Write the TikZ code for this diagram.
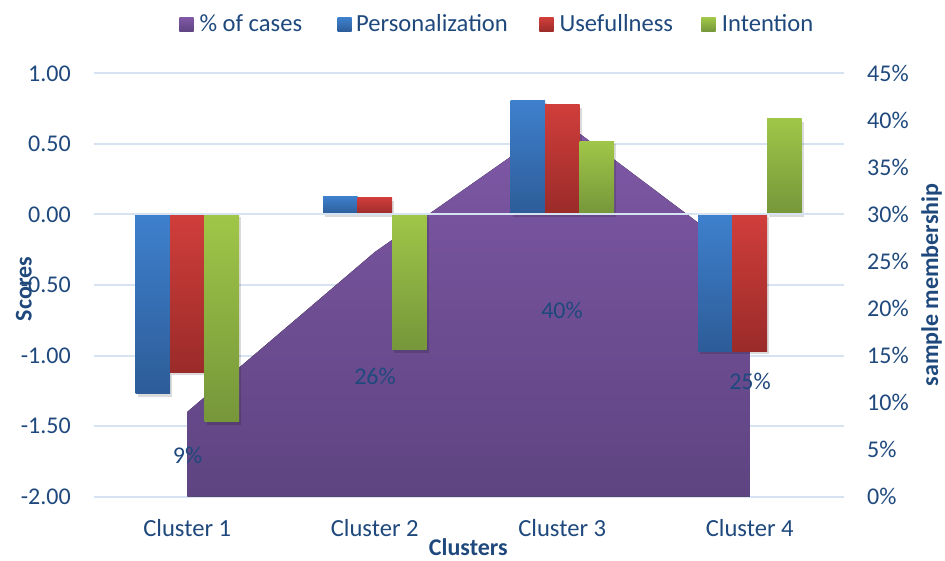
\documentclass[tikz,border=0pt]{standalone}
\usepackage{fontspec}
\setmainfont{Carlito}
\definecolor{txt}{RGB}{31,73,125}
\definecolor{gridc}{RGB}{214,227,243}
\definecolor{purT}{RGB}{127,88,166}
\definecolor{purB}{RGB}{94,68,129}
\definecolor{bluT}{RGB}{62,128,205}
\definecolor{bluB}{RGB}{45,92,152}
\definecolor{redT}{RGB}{208,62,59}
\definecolor{redB}{RGB}{154,43,41}
\definecolor{grnT}{RGB}{160,198,72}
\definecolor{grnB}{RGB}{118,150,58}
\begin{document}
\begin{tikzpicture}[x=1pt,y=-1pt,
  every node/.style={font=\fontsize{24}{28}\selectfont, text=txt, inner sep=0pt},
  bigtext/.style={font=\fontsize{24.6}{28}\selectfont},
  gridline/.style={draw=gridc, line width=2pt},
  areafill/.style={top color=purT, bottom color=purB},
  bluebar/.style={top color=bluT, bottom color=bluB},
  redbar/.style={top color=redT, bottom color=redB},
  greenbar/.style={top color=grnT, bottom color=grnB},
  barshadow/.style={fill=black, opacity=0.14},
  axtitle/.style={font=\fontsize{24}{28}\selectfont\bfseries}
]
\useasboundingbox (0,0) rectangle (945,561);

% gridlines (behind)
\foreach \y in {73.5,144,285,355.5,426,496.5}
  \draw[gridline] (93.5,\y) -- (843.5,\y);

% area series (% of cases)
\fill[areafill] (187.25,496.5) -- (187.25,411.9) -- (374.75,252.1) -- (562.25,120.5)
  -- (749.75,261.5) -- (749.75,496.5) -- cycle;

% bar shadows
\foreach \xl/\v in {135.5/-1.27,170/-1.12,204.5/-1.47,
                    323/0.13,357.5/0.12,392/-0.96,
                    510.5/0.81,545/0.78,579.5/0.52,
                    698/-0.97,732.5/-0.97,767/0.68}
  \fill[barshadow] ({\xl+2},217.5) rectangle ({\xl+36.5},{217.5-141*\v});

% bars
\foreach \xl/\v/\s in {135.5/-1.27/bluebar,170/-1.12/redbar,204.5/-1.47/greenbar,
                       323/0.13/bluebar,357.5/0.12/redbar,392/-0.96/greenbar,
                       510.5/0.81/bluebar,545/0.78/redbar,579.5/0.52/greenbar,
                       698/-0.97/bluebar,732.5/-0.97/redbar,767/0.68/greenbar}
  \path[\s] (\xl,214.5) rectangle ({\xl+34.5},{214.5-141*\v});

% zero axis line on top
\draw[gridline] (93.5,214.5) -- (843.5,214.5);

% left axis labels
\foreach \y/\t [count=\i] in {73.5/1.00,144/0.50,214.5/0.00,285/-0.50,355.5/-1.00,426/-1.50,496.5/-2.00}
  \node[anchor=east] (yl\i) at (71,\y) {\t};

% right axis labels
\foreach \p [count=\i] in {0,5,10,15,20,25,30,35,40,45}
  \node[anchor=west] (yr\i) at (867,{496.5-9.4*\p}) {\p\%};

% category labels
\foreach \x/\t [count=\i] in {187.25/Cluster 1,374.75/Cluster 2,562.25/Cluster 3,749.75/Cluster 4}
  \node[bigtext, anchor=base] (cat\i) at (\x,536.7) {\t};

% data labels
\node (d1) at (187.5,455.5) {9\%};
\node (d2) at (375,376) {26\%};
\node (d3) at (562,310.5) {40\%};
\node (d4) at (750,381.5) {25\%};

% axis titles
\node[axtitle, anchor=base] (xt) at (468.3,555) {Clusters};
\node[axtitle, anchor=base, rotate=90] (ylt) at (31.5,289) {Scores};
\node[axtitle, anchor=base, rotate=90] (yrt) at (938,285) {sample membership};

% legend
\path[areafill] (179.3,17.7) rectangle (193.5,31.7);
\node[bigtext, anchor=base west] (lg1) at (199.3,31.7) {\% of cases};
\path[bluebar] (337.5,17.7) rectangle (351.7,31.7);
\node[bigtext, anchor=base west] (lg2) at (356,31.7) {Personalization};
\path[redbar] (539.3,17.7) rectangle (553.5,31.7);
\node[bigtext, anchor=base west] (lg3) at (559.3,31.7) {Usefullness};
\path[greenbar] (701.3,17.7) rectangle (715.5,31.7);
\node[bigtext, anchor=base west] (lg4) at (721.7,31.7) {Intention};
\end{tikzpicture}
\end{document}
